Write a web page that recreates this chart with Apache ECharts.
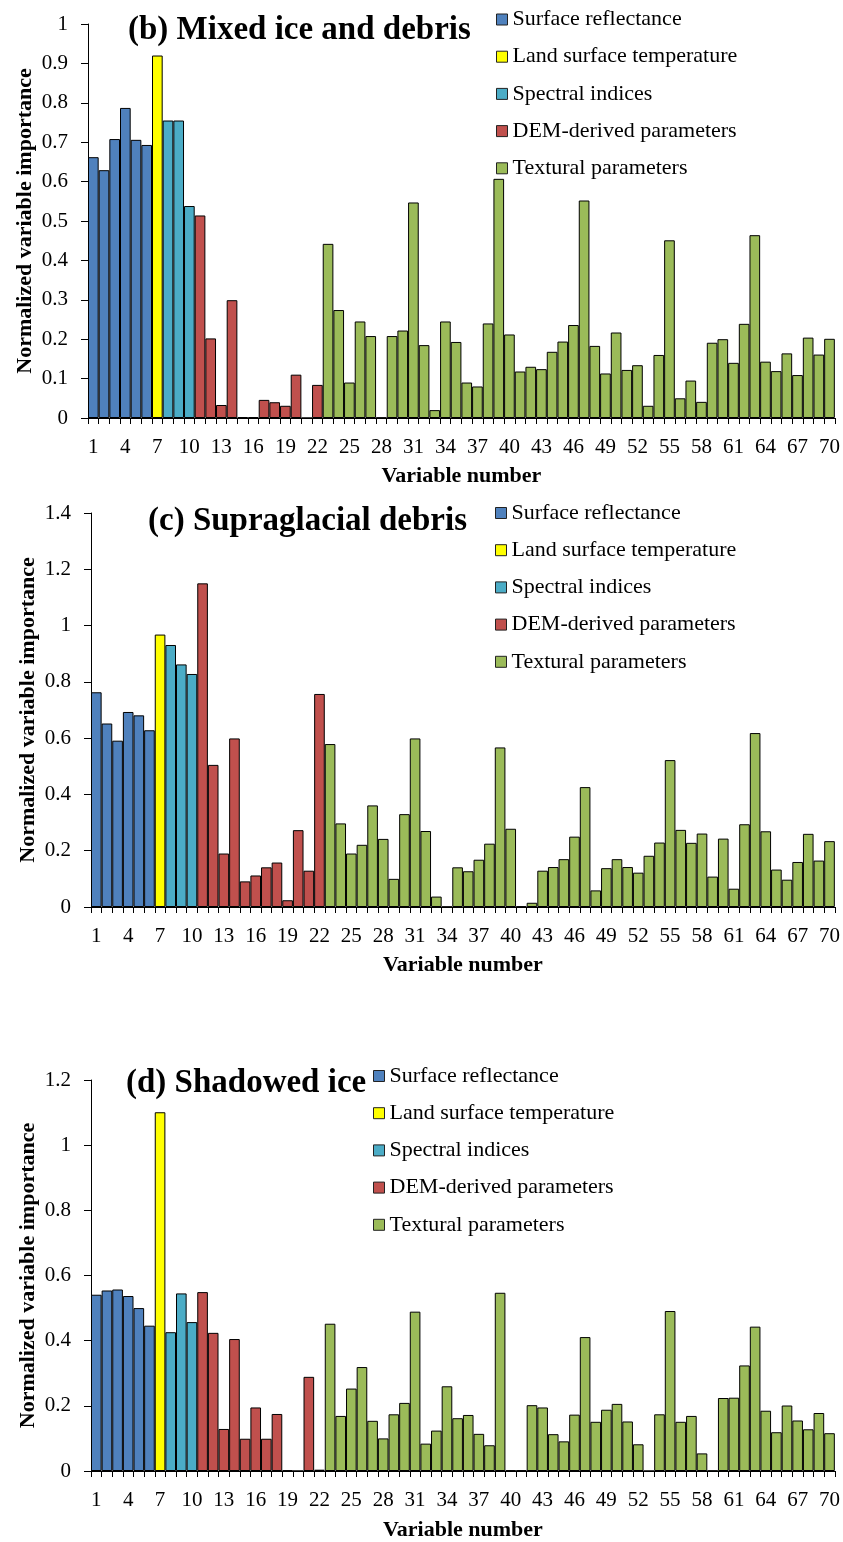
<!DOCTYPE html>
<html><head><meta charset="utf-8">
<script src="https://cdn.jsdelivr.net/npm/echarts@6/dist/echarts.min.js"></script>
<style>html,body{margin:0;padding:0;background:#fff}#c{width:843px;height:1542px}</style>
</head><body><div id="c"></div>
<script>
// ---- data ----
const categories = ['1','2','3','4','5','6','7','8','9','10','11','12','13','14','15','16','17','18','19','20',
  '21','22','23','24','25','26','27','28','29','30','31','32','33','34','35','36','37','38','39','40',
  '41','42','43','44','45','46','47','48','49','50','51','52','53','54','55','56','57','58','59','60',
  '61','62','63','64','65','66','67','68','69','70'];
const groupNames = ['Surface reflectance','Land surface temperature','Spectral indices','DEM-derived parameters','Textural parameters'];
const groupRanges = [[1,6],[7,7],[8,10],[11,22],[23,70]];
const panelTitles = ['(b) Mixed ice and debris','(c) Supraglacial debris','(d) Shadowed ice'];
const mixedIceDebris = [0.662,0.629,0.708,0.787,0.706,0.693,0.920,0.755,0.755,0.538,
 0.514,0.202,0.033,0.299,0.002,0.002,0.046,0.040,0.031,0.110,
 0.000,0.084,0.442,0.274,0.090,0.245,0.208,0.001,0.208,0.222,
 0.547,0.185,0.020,0.245,0.193,0.090,0.080,0.240,0.607,0.212,
 0.118,0.130,0.124,0.168,0.194,0.236,0.552,0.183,0.113,0.217,
 0.122,0.134,0.031,0.160,0.451,0.050,0.095,0.041,0.191,0.200,
 0.140,0.239,0.464,0.143,0.119,0.164,0.109,0.204,0.161,0.201];
const supraglacialDebris = [0.763,0.652,0.591,0.693,0.681,0.628,0.968,0.931,0.862,0.828,
 1.150,0.505,0.190,0.599,0.091,0.112,0.141,0.158,0.024,0.273,
 0.129,0.757,0.579,0.297,0.190,0.221,0.361,0.242,0.100,0.330,
 0.599,0.270,0.037,0.001,0.141,0.127,0.168,0.225,0.567,0.278,
 0.002,0.015,0.129,0.142,0.170,0.250,0.426,0.059,0.138,0.170,
 0.142,0.122,0.182,0.229,0.522,0.274,0.228,0.261,0.108,0.243,
 0.065,0.294,0.618,0.269,0.133,0.097,0.160,0.260,0.165,0.234];
const shadowedIce = [0.541,0.554,0.557,0.537,0.500,0.446,1.101,0.426,0.545,0.457,
 0.549,0.424,0.129,0.405,0.099,0.195,0.099,0.175,0.002,0.000,
 0.289,0.004,0.452,0.169,0.253,0.319,0.154,0.100,0.174,0.209,
 0.489,0.084,0.124,0.260,0.162,0.172,0.114,0.079,0.547,0.002,
 0.002,0.202,0.195,0.113,0.091,0.173,0.411,0.151,0.188,0.206,
 0.152,0.082,0.000,0.174,0.491,0.151,0.169,0.054,0.001,0.224,
 0.225,0.324,0.443,0.185,0.119,0.201,0.155,0.128,0.178,0.116];
const yMaxes = [1, 1.4, 1.2];
const yIntervals = [0.1, 0.2, 0.2];

// ---- style / layout ----
const FONT = '"Liberation Serif","Times New Roman",serif';
const groupColors = ['#4F81BD','#FFFF00','#4BACC6','#C0504D','#9BBB59'];
const panels = [mixedIceDebris, supraglacialDebris, shadowedIce];
const grids = [
  {left:88, top:24, width:747, height:394},
  {left:91, top:513, width:746, height:394},
  {left:91, top:1080, width:746, height:394}
];
const titlePos = [{left:128, top:14},{left:148, top:505},{left:126, top:1067}];
const legendPos = [{left:496, top:8.5},{left:495, top:502},{left:373, top:1065}];
const xNameGap = [47, 47, 48];

const series = [];
panels.forEach((vals, p) => {
  groupNames.forEach((name, g) => {
    const [a, b] = groupRanges[g];
    series.push({
      name, type: 'bar', xAxisIndex: p, yAxisIndex: p,
      barGap: '-100%', barCategoryGap: '0%',
      itemStyle: {color: groupColors[g], borderColor: '#000', borderWidth: 1},
      emphasis: {disabled: true},
      data: vals.map((v, i) => (i + 1 >= a && i + 1 <= b) ? v : '-')
    });
  });
});

const option = {
  animation: false,
  backgroundColor: '#fff',
  title: panelTitles.map((t, p) => ({
    text: t, left: titlePos[p].left, top: titlePos[p].top, padding: 0,
    textStyle: {fontFamily: FONT, fontSize: 33, fontWeight: 'bold', color: '#000'}
  })),
  legend: legendPos.map(lp => ({
    data: groupNames, orient: 'vertical', left: lp.left, top: lp.top, padding: 0,
    itemWidth: 11, itemHeight: 11, itemGap: 15.2, icon: 'rect',
    itemStyle: {borderColor: '#222', borderWidth: 1},
    textStyle: {fontFamily: FONT, fontSize: 22, color: '#000', lineHeight: 22}
  })),
  grid: grids.map(g => Object.assign({containLabel: false}, g)),
  xAxis: grids.map((g, p) => ({
    type: 'category', gridIndex: p, data: categories,
    name: 'Variable number', nameLocation: 'middle', nameGap: xNameGap[p], nameMoveOverlap: false,
    nameTextStyle: {fontFamily: FONT, fontSize: 22, fontWeight: 'bold', color: '#000'},
    axisLine: {show: true, lineStyle: {color: '#000', width: 1}},
    axisTick: {show: true, interval: 0, length: 6, lineStyle: {color: '#000'}},
    axisLabel: {interval: 2, fontFamily: FONT, fontSize: 21, color: '#000', margin: 19}
  })),
  yAxis: grids.map((g, p) => ({
    type: 'value', gridIndex: p, min: 0, max: yMaxes[p], interval: yIntervals[p],
    name: 'Normalized variable importance', nameLocation: 'middle', nameGap: 52, nameMoveOverlap: false,
    nameTextStyle: {fontFamily: FONT, fontSize: 22, fontWeight: 'bold', color: '#000'},
    splitLine: {show: false},
    axisLine: {show: true, lineStyle: {color: '#000', width: 1}},
    axisTick: {show: true, length: 7, lineStyle: {color: '#000'}},
    axisLabel: {fontFamily: FONT, fontSize: 21, color: '#000', margin: 20}
  })),
  series
};
const chart = echarts.init(document.getElementById('c'), null, {renderer: 'canvas'});
chart.setOption(option);
</script>
</body></html>
